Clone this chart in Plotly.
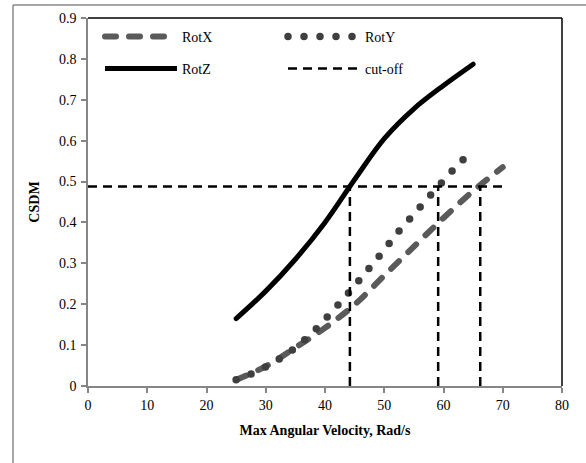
import plotly.graph_objects as go

# ---- data ----
rotx_x = [25, 30, 35, 40, 45, 50, 55, 60, 65, 70]
rotx_y = [0.015, 0.048, 0.094, 0.142, 0.199, 0.270, 0.341, 0.411, 0.477, 0.535]

roty_x = [25, 27.5, 30, 32.5, 35, 37.5, 40, 42.5, 45, 47.5, 50, 52.5, 55, 57.5, 60, 62.5, 65]
roty_y = [0.015, 0.029, 0.047, 0.068, 0.094, 0.125, 0.163, 0.203, 0.245, 0.289, 0.333, 0.379,
          0.420, 0.462, 0.502, 0.542, 0.575]

rotz_x = [25, 30, 35, 40, 45, 50, 55, 60, 65]
rotz_y = [0.165, 0.232, 0.310, 0.400, 0.505, 0.605, 0.678, 0.735, 0.787]

cutoff_y = 0.488
cutoff_xs = [44.2, 59.1, 66.2]
cutoff_xmax = 70

x_ticks = [0, 10, 20, 30, 40, 50, 60, 70, 80]
y_ticks = [0, 0.1, 0.2, 0.3, 0.4, 0.5, 0.6, 0.7, 0.8, 0.9]

# build cut-off path from the values
cx = [0, cutoff_xmax, None]
cy = [cutoff_y, cutoff_y, None]
for v in cutoff_xs:
    cx += [v, v, None]
    cy += [0, cutoff_y, None]

FONT = "Liberation Serif"

fig = go.Figure()
fig.add_trace(go.Scatter(x=rotx_x, y=rotx_y, mode="lines", name="RotX",
                         line=dict(color="#5a5a5a", width=6, dash="11px,13px", shape="spline", smoothing=1.0),
                         legend="legend"))
fig.add_trace(go.Scatter(x=roty_x, y=roty_y, mode="lines", name="RotY",
                         line=dict(color="#3f3f3f", width=7.5, dash="0px,16px", shape="spline", smoothing=1.0),
                         legend="legend"))
fig.add_trace(go.Scatter(x=rotz_x, y=rotz_y, mode="lines", name="RotZ",
                         line=dict(color="black", width=5, shape="spline", smoothing=1.0),
                         legend="legend2"))
fig.add_trace(go.Scatter(x=cx, y=cy, mode="lines", name="cut-off",
                         line=dict(color="black", width=2.5, dash="9px,6px"),
                         legend="legend2"))

W, H = 586, 463
L, R, T, B = 88, 24, 18, 77
pw, ph = W - L - R, H - T - B

def px2paper_x(p):
    return (p - L) / pw

def px2paper_y(p):
    return 1 - (p - T) / ph

leg_common = dict(orientation="h", xanchor="left", yanchor="middle",
                  font=dict(family=FONT, size=14, color="black"),
                  bgcolor="rgba(0,0,0,0)", itemwidth=72, entrywidth=96,
                  tracegroupgap=0)

fig.update_layout(
    width=W, height=H,
    margin=dict(l=L, r=R, t=T, b=B, pad=0),
    paper_bgcolor="white", plot_bgcolor="white",
    font=dict(family=FONT, size=13, color="black"),
    showlegend=True,
    legend=dict(x=px2paper_x(100), y=px2paper_y(37), **leg_common),
    legend2=dict(x=px2paper_x(100), y=px2paper_y(69), **leg_common),
    xaxis=dict(range=[0, 80], tickvals=x_ticks, ticks="outside", ticklen=5,
               tickcolor="#868686", tickwidth=1.5, showgrid=False, zeroline=False,
               showline=True, linecolor="#868686", linewidth=1.5,
               tickfont=dict(family=FONT, size=14, color="black"),
               title=dict(text="<b>Max Angular Velocity, Rad/s</b>",
                          font=dict(family=FONT, size=14, color="black"), standoff=14)),
    yaxis=dict(range=[0, 0.9], tickvals=y_ticks, ticks="outside", ticklen=5,
               tickcolor="#868686", tickwidth=1.5, showgrid=False, zeroline=False,
               showline=True, linecolor="#868686", linewidth=1.5,
               tickfont=dict(family=FONT, size=14, color="black"),
               ticklabelstandoff=2,
               title=dict(text="<b>CSDM</b>",
                          font=dict(family=FONT, size=14, color="black"), standoff=16)),
    shapes=[
        # plot-area frame, top and right
        dict(type="line", xref="paper", yref="paper", x0=0, x1=1, y0=1, y1=1,
             line=dict(color="black", width=1.5)),
        dict(type="line", xref="paper", yref="paper", x0=1, x1=1, y0=0, y1=1,
             line=dict(color="black", width=1.5)),
        # outer chart border (left, top)
        dict(type="line", xref="paper", yref="paper",
             x0=px2paper_x(13), x1=px2paper_x(13), y0=px2paper_y(470), y1=px2paper_y(5),
             line=dict(color="#8a8a8a", width=1.5)),
        dict(type="line", xref="paper", yref="paper",
             x0=px2paper_x(13), x1=px2paper_x(600), y0=px2paper_y(5), y1=px2paper_y(5),
             line=dict(color="#8a8a8a", width=1.5)),
    ],
)

post = """
var gd = document.getElementById('{plot_id}');
function roundCaps() {
  var tr = gd.querySelectorAll('.scatterlayer .trace');
  for (var i = 0; i < tr.length && i < 3; i++) {
    tr[i].querySelectorAll('.js-line').forEach(function(p){ p.style.strokeLinecap = 'round'; });
  }
  gd.querySelectorAll('g.traces').forEach(function(g){
    var t = g.querySelector('.legendtext');
    if (t && t.textContent !== 'cut-off') {
      g.querySelectorAll('.js-line').forEach(function(p){ p.style.strokeLinecap = 'round'; });
    }
  });
}
roundCaps();
gd.on('plotly_afterplot', roundCaps);
setTimeout(roundCaps, 50);
"""

fig.write_html("out.html", post_script=post)
